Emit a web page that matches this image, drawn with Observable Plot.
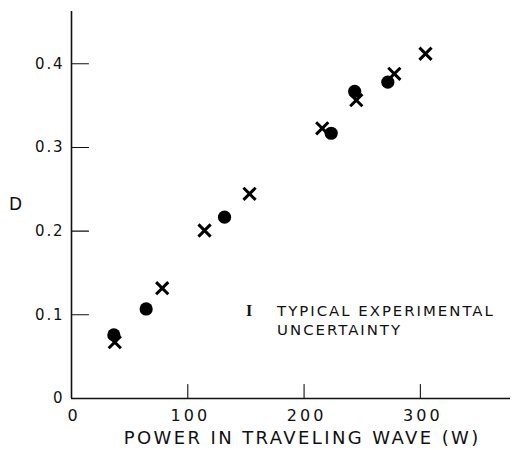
<!DOCTYPE html>
<html>
<head>
<meta charset="utf-8">
<script src="https://cdn.jsdelivr.net/npm/d3@7"></script>
<script src="https://cdn.jsdelivr.net/npm/@observablehq/plot@0.6"></script>
<style>
  html, body { margin: 0; padding: 0; background: #fff; }
  #chart { width: 513px; height: 450px; }
</style>
</head>
<body>
<div id="chart"></div>
<script>
// Power in traveling wave (W) and D — filled circles
const circleX = [36.4, 64.2, 131.6, 223.3, 243.5, 272.0];
const circleY = [0.076, 0.107, 0.2167, 0.317, 0.367, 0.378];
// crosses
const crossX = [37.2, 78.0, 114.4, 153.1, 215.6, 244.9, 277.6, 304.4];
const crossY = [0.0673, 0.1318, 0.2008, 0.2446, 0.3229, 0.3565, 0.388, 0.412];

const xTicks = [0, 100, 200, 300];
const xTickLabels = ["0", "100", "200", "300"];
const yTicks = [0, 0.1, 0.2, 0.3, 0.4];
const yTickLabels = ["0", "0.1", "0.2", "0.3", "0.4"];

const xTitle = "POWER IN TRAVELING WAVE (W)";
const yTitle = "D";
const noteSymbol = "I";
const noteLines = ["TYPICAL EXPERIMENTAL", "UNCERTAINTY"];
const noteX = 154;      // data position of the uncertainty symbol
const noteTextX = 176.8;
const noteY = [0.1045, 0.0815];

const circles = circleX.map((x, i) => ({x, y: circleY[i]}));
const crosses = crossX.map((x, i) => ({x, y: crossY[i]}));
const yTickData = yTicks.map((v, i) => ({v, label: yTickLabels[i]}));
const xTickData = xTicks.map((v, i) => ({v, label: xTickLabels[i]}));

const tickShape = { draw(context, l) { context.moveTo(0, 0); context.lineTo(0, -l); } };
const font = "DejaVu Sans, sans-serif";

// letter spacing per text group, keyed by the group's font-size
const spacing = {"15": "1.8px", "16": "3px", "18": "2.4px", "14.9": "2px"};

const chart = Plot.plot({
  width: 513,
  height: 450,
  marginLeft: 71,
  marginRight: 3,
  marginTop: 11,
  marginBottom: 52,
  x: {domain: [0, 377.5], axis: null},
  y: {domain: [0, 0.4625], axis: null},
  style: {background: "#fff", color: "#111"},
  marks: [
    Plot.ruleX([0], {stroke: "#111", strokeWidth: 1.6}),
    Plot.ruleY([0], {stroke: "#111", strokeWidth: 1.4}),
    // inward ticks
    Plot.vector(yTicks.filter(d => d > 0), {x: 0, y: d => d, length: 17, rotate: 90, anchor: "start", shape: tickShape, stroke: "#111", strokeWidth: 1.1}),
    Plot.vector(xTicks.filter(d => d > 0), {x: d => d, y: 0, length: 14, rotate: 0, anchor: "start", shape: tickShape, stroke: "#111", strokeWidth: 1.1}),
    // tick labels
    Plot.text(yTickData, {x: 0, y: "v", text: "label", textAnchor: "end", dx: -7.2, fontSize: 15, fontFamily: font, fill: "#111"}),
    Plot.text(xTickData, {x: "v", y: 0, text: "label", textAnchor: "middle", dx: 2.5, dy: 17.5, lineAnchor: "middle", fontSize: 16, fontFamily: font, fill: "#111"}),
    // titles
    Plot.text([xTitle], {frameAnchor: "bottom", text: d => d, dx: 11.2, dy: 40, lineAnchor: "middle", fontSize: 18, fontFamily: font, fill: "#111"}),
    Plot.text([yTitle], {frameAnchor: "left", text: d => d, dx: -56, dy: 0, lineAnchor: "middle", textAnchor: "middle", fontSize: 17, fontFamily: font, fill: "#111"}),
    // annotation
    Plot.text([noteSymbol], {x: noteX, y: noteY[0], text: d => d, fontSize: 16, fontWeight: "bold", fontFamily: "Liberation Serif, serif", fill: "#111"}),
    Plot.text(noteLines, {x: noteTextX, y: (d, i) => noteY[i], text: d => d, textAnchor: "start", lineAnchor: "middle", fontSize: 14.9, fontFamily: font, fill: "#111"}),
    // data
    Plot.dot(circles, {x: "x", y: "y", r: 6.6, fill: "#000", stroke: "none"}),
    Plot.dot(crosses, {x: "x", y: "y", symbol: "times", r: 5.6, stroke: "#000", strokeWidth: 3})
  ]
});
d3.select(chart).selectAll("g[font-size]").each(function() {
  const fs = this.getAttribute("font-size");
  if (spacing[fs]) d3.select(this).selectAll("text").style("letter-spacing", spacing[fs]);
});
document.getElementById("chart").appendChild(chart);
</script>
</body>
</html>
